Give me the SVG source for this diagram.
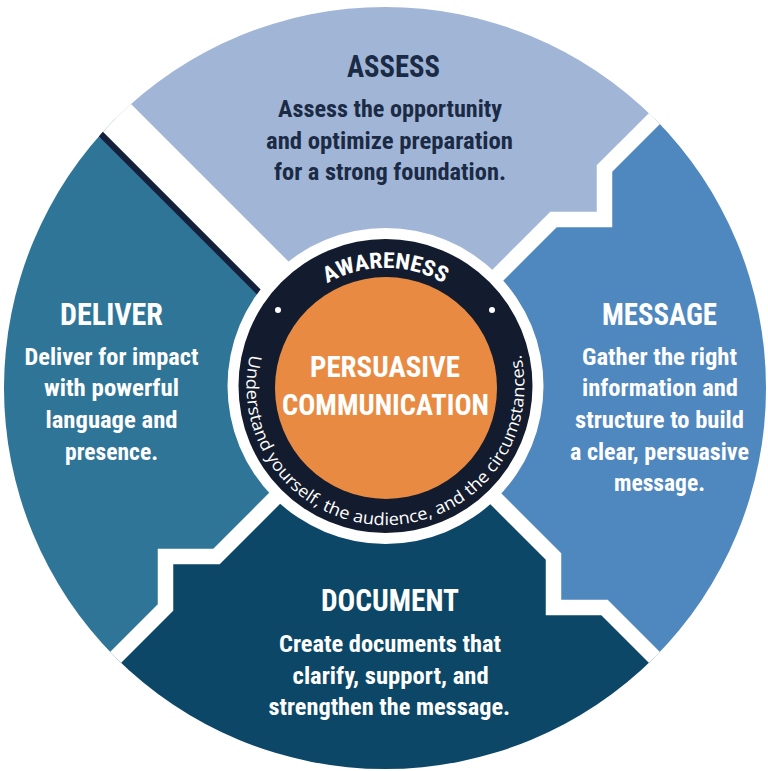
<svg xmlns="http://www.w3.org/2000/svg" width="768" height="771" viewBox="0 0 768 771">
<style>
.ttl{font-family:"Roboto Condensed","DejaVu Sans Condensed","Liberation Sans Narrow",Roboto,sans-serif;font-weight:700;font-stretch:condensed;font-size:31px;text-anchor:middle}
.body{font-family:"Roboto Condensed","DejaVu Sans Condensed","Liberation Sans Narrow",Roboto,sans-serif;font-weight:700;font-stretch:condensed;font-size:24px;text-anchor:middle}
.w{fill:#ffffff}
.d{fill:#1b2a45}
.sep{fill:none;stroke:#ffffff;stroke-width:15.5;stroke-linejoin:miter;stroke-miterlimit:10}
.arc{font-family:"Open Sans","Noto Sans","DejaVu Sans",sans-serif;font-size:17px;fill:#ffffff}
.aw{font-family:"Roboto Condensed","DejaVu Sans Condensed",Roboto,sans-serif;font-weight:700;font-size:22px;fill:#ffffff}
</style>
<defs>
<clipPath id="disc"><circle cx="385" cy="388" r="381"/></clipPath>
<path id="topArc" d="M274.6,345.6 A118,118 0 0 1 496.4,345.6"/>
<path id="botArc" d="M254.9,338.5 A139,139 0 1 0 516.1,338.5"/>
</defs>
<rect width="768" height="771" fill="#ffffff"/>
<g clip-path="url(#disc)">
<g id="node-assess">
<path d="M385,388 L-65,-62 L835,-62 L604.5,168.5 L604.5,219.5 L553.5,219.5 Z" fill="#a1b6d6"/>
</g>
<g id="node-message">
<path d="M385,388 L553.5,219.5 L604.5,219.5 L604.5,168.5 L835,-62 L835,838 L604.5,607.5 L553.5,607.5 L553.5,556.5 Z" fill="#4f87bf"/>
</g>
<g id="node-document">
<path d="M385,388 L553.5,556.5 L553.5,607.5 L604.5,607.5 L835,838 L-65,838 L165.5,607.5 L165.5,556.5 L216.5,556.5 Z" fill="#0c4767"/>
</g>
<g id="node-deliver">
<path d="M385,388 L216.5,556.5 L165.5,556.5 L165.5,607.5 L-65,838 L-65,-62 Z" fill="#2f7598"/>
</g>
<g id="connectors">
<path class="sep" d="M835,-62 L604.5,168.5 L604.5,219.5 L553.5,219.5 L385,388"/>
<path class="sep" d="M835,838 L604.5,607.5 L553.5,607.5 L553.5,556.5 L385,388"/>
<path class="sep" d="M-65,838 L165.5,607.5 L165.5,556.5 L216.5,556.5 L385,388"/>
<path d="M-64,-63 L386,387" stroke="#ffffff" stroke-width="39.6" fill="none"/>
<path d="M-80.1,-46.9 L274.9,308.1" stroke="#16203a" stroke-width="6" fill="none"/>
</g>
</g>
<g id="text-assess">
<text class="ttl d" x="393.5" y="77" textLength="93" lengthAdjust="spacingAndGlyphs">ASSESS</text>
<text class="body d" x="390" y="117" textLength="224" lengthAdjust="spacingAndGlyphs">Assess the opportunity</text>
<text class="body d" x="389.5" y="149" textLength="247" lengthAdjust="spacingAndGlyphs">and optimize preparation</text>
<text class="body d" x="390" y="180" textLength="232" lengthAdjust="spacingAndGlyphs">for a strong foundation.</text>
</g>
<g id="text-message">
<text class="ttl w" x="659.5" y="325" textLength="115" lengthAdjust="spacingAndGlyphs">MESSAGE</text>
<text class="body w" x="659.5" y="365" textLength="155" lengthAdjust="spacingAndGlyphs">Gather the right</text>
<text class="body w" x="660" y="396" textLength="156" lengthAdjust="spacingAndGlyphs">information and</text>
<text class="body w" x="659.5" y="428" textLength="169" lengthAdjust="spacingAndGlyphs">structure to build</text>
<text class="body w" x="659.5" y="460" textLength="179" lengthAdjust="spacingAndGlyphs">a clear, persuasive</text>
<text class="body w" x="659.5" y="491" textLength="91" lengthAdjust="spacingAndGlyphs">message.</text>
</g>
<g id="text-deliver">
<text class="ttl w" x="111.5" y="325" textLength="103" lengthAdjust="spacingAndGlyphs">DELIVER</text>
<text class="body w" x="111.5" y="365" textLength="174" lengthAdjust="spacingAndGlyphs">Deliver for impact</text>
<text class="body w" x="111.5" y="396" textLength="135" lengthAdjust="spacingAndGlyphs">with powerful</text>
<text class="body w" x="111.5" y="428" textLength="132" lengthAdjust="spacingAndGlyphs">language and</text>
<text class="body w" x="111.5" y="460" textLength="93" lengthAdjust="spacingAndGlyphs">presence.</text>
</g>
<g id="text-document">
<text class="ttl w" x="390" y="611" textLength="138" lengthAdjust="spacingAndGlyphs">DOCUMENT</text>
<text class="body w" x="390" y="652" textLength="222" lengthAdjust="spacingAndGlyphs">Create documents that</text>
<text class="body w" x="390.6" y="684" textLength="196" lengthAdjust="spacingAndGlyphs">clarify, support, and</text>
<text class="body w" x="389.3" y="715" textLength="241.6" lengthAdjust="spacingAndGlyphs">strengthen the message.</text>
</g>
<g id="node-center">
<circle cx="385.5" cy="386" r="158" fill="#ffffff"/>
<circle cx="385.5" cy="386" r="147" fill="#131b2e"/>
<circle cx="386" cy="388" r="111" fill="#e98a42"/>
<circle cx="278" cy="310" r="3" fill="#ffffff"/>
<circle cx="492" cy="310" r="3" fill="#ffffff"/>
<text class="aw" text-anchor="middle"><textPath href="#topArc" startOffset="50%" textLength="122" lengthAdjust="spacingAndGlyphs">AWARENESS</textPath></text>
<text class="arc" text-anchor="middle"><textPath href="#botArc" startOffset="50%" textLength="500" lengthAdjust="spacingAndGlyphs">Understand yourself, the audience, and the circumstances.</textPath></text>
<text class="ttl w" style="font-size:30px" x="385" y="377" textLength="150" lengthAdjust="spacingAndGlyphs">PERSUASIVE</text>
<text class="ttl w" style="font-size:30px" x="385.5" y="415" textLength="207" lengthAdjust="spacingAndGlyphs">COMMUNICATION</text>
</g>
</svg>
